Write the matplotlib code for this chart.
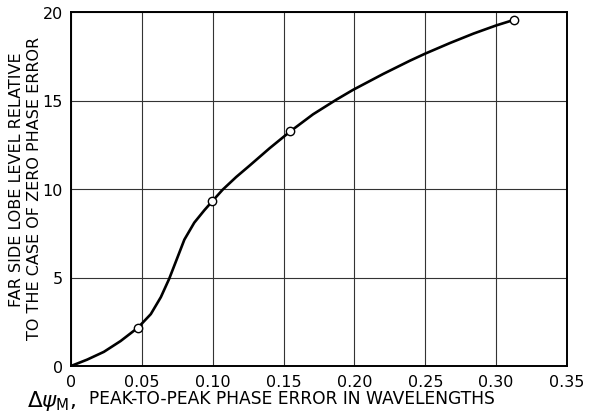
"""Far side lobe level vs peak-to-peak phase error (reproduction of a scanned figure)."""

import matplotlib
matplotlib.use("Agg")
import matplotlib.pyplot as plt
import matplotlib.ticker as ticker

# traced curve (x = peak-to-peak phase error in wavelengths, y = side lobe level)
curve_x = [0.0, 0.0114, 0.0232, 0.0350, 0.0473, 0.0563, 0.0634, 0.0693,
           0.0741, 0.0800, 0.0870, 0.0941, 0.0996, 0.1070, 0.1166, 0.1260,
           0.1401, 0.1548, 0.1708, 0.1873, 0.1990, 0.2203, 0.2392, 0.2500,
           0.2675, 0.2840, 0.3000, 0.3128]
curve_y = [0.0, 0.36, 0.80, 1.41, 2.17, 2.93, 3.89, 4.93,
           5.92, 7.14, 8.10, 8.80, 9.30, 9.96, 10.68, 11.32,
           12.30, 13.26, 14.22, 15.05, 15.60, 16.50, 17.25, 17.65,
           18.25, 18.78, 19.24, 19.56]

# measured points (open circles)
point_x = [0.0473, 0.0996, 0.1548, 0.3128]
point_y = [2.17, 9.30, 13.26, 19.56]

x_ticks = [0, 0.05, 0.10, 0.15, 0.20, 0.25, 0.30, 0.35]
x_tick_labels = ["0", "0.05", "0.10", "0.15", "0.20", "0.25", "0.30", "0.35"]
y_ticks = [0, 5, 10, 15, 20]

W, H = 589, 414
fig = plt.figure(figsize=(W / 100, H / 100), dpi=100, facecolor="white")
ax = fig.add_axes([71 / W, 1 - 367 / H, (567 - 71) / W, (367 - 13) / H])

ax.plot(curve_x, curve_y, color="black", linewidth=1.9, zorder=3,
        solid_capstyle="round", solid_joinstyle="round")
ax.plot(point_x, point_y, linestyle="none", marker="o", markersize=6,
        markerfacecolor="white", markeredgecolor="black", markeredgewidth=1.0,
        zorder=4)

ax.set_xlim(0, 0.35)
ax.set_ylim(0, 20)
ax.set_xticks(x_ticks)
ax.set_xticklabels(x_tick_labels)
ax.set_yticks(y_ticks)
ax.yaxis.set_major_formatter(ticker.FormatStrFormatter("%d"))

ax.grid(True, color="#333333", linewidth=0.8, zorder=0)
ax.tick_params(length=0, labelsize=11.5, pad=6, colors="black")
for spine in ax.spines.values():
    spine.set_linewidth(1.4)
    spine.set_color("black")

# y-axis label, two lines
fig.text(16.5 / W, 1 - 180 / H, "FAR SIDE LOBE LEVEL RELATIVE", rotation=90,
         ha="center", va="center", fontsize=11.5)
fig.text(35 / W, 1 - 188 / H, "TO THE CASE OF ZERO PHASE ERROR", rotation=90,
         ha="center", va="center", fontsize=11.5)

# x-axis label
fig.text(27 / W, 1 - 401 / H, r"$\Delta\psi_{\mathrm{M}}$,", ha="left",
         va="center", fontsize=15.5)
fig.text(89 / W, 1 - 399 / H, "PEAK-TO-PEAK PHASE ERROR IN WAVELENGTHS",
         ha="left", va="center", fontsize=12.3)

fig.savefig("out.png", dpi=100, facecolor="white")
